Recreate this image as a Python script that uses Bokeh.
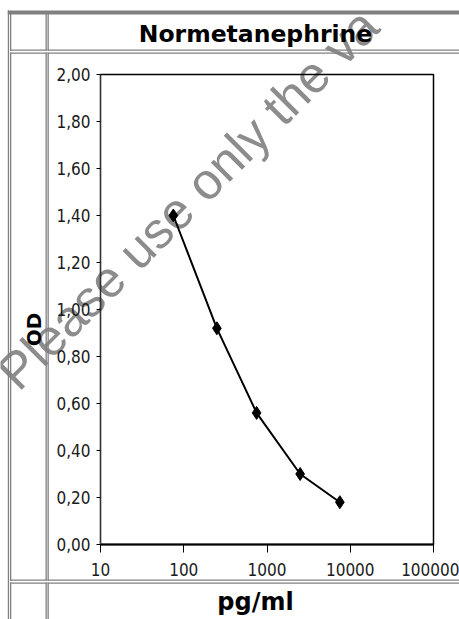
from bokeh.plotting import figure
from bokeh.models import Range1d, FixedTicker
from bokeh.layouts import column
from bokeh.core.properties import value
from bokeh.embed import file_html
from bokeh.resources import INLINE

# ---- data ----
conc = [75, 250, 750, 2500, 7500]
od = [1.40, 0.92, 0.56, 0.30, 0.18]
x_ticks = [10, 100, 1000, 10000, 100000]
x_tick_labels = ["10", "100", "1000", "10000", "100000"]
y_ticks = [0.0, 0.2, 0.4, 0.6, 0.8, 1.0, 1.2, 1.4, 1.6, 1.8, 2.0]
y_tick_labels = ["0,00", "0,20", "0,40", "0,60", "0,80", "1,00", "1,20", "1,40", "1,60", "1,80", "2,00"]
title_text = "Normetanephrine"
x_label = "pg/ml"
y_label = "OD"
watermark = "Please use only the va"

W, H = 459, 619
FL, FR, FT, FB = 100, 433, 74, 544  # plot-area edges in page pixels

# ---------- background figure: table borders, titles, watermark (page pixel space) ----------
bg = figure(width=W, height=H, x_range=Range1d(0, W), y_range=Range1d(H, 0),
            output_backend="svg", toolbar_location=None,
            x_axis_location=None, y_axis_location=None, min_border=0)
bg.outline_line_color = None
bg.background_fill_color = "white"
bg.border_fill_color = "white"
bg.xgrid.visible = False
bg.ygrid.visible = False

# watermark
bg.text(x=[6], y=[380], text=[watermark], angle=45, angle_units="deg",
        text_font=value("Liberation Sans"), text_font_size="51px",
        text_color="#8c8c8c", text_align="left", text_baseline="alphabetic")

gray = "#808080"
L, R, T, B = [], [], [], []
def band(x0, x1, y0, y1):
    L.append(x0); R.append(x1); T.append(y0); B.append(y1)

band(7.3, W, 10, 14)          # top band
band(7.3, 8.6, 10, H)         # outer left
cols = [(9.5, 10.8), (45, 46.3), (47, 48.3)]
rows = [(13, 50.3), (52, 580.3), (582, H)]
for (c0, c1) in cols:
    for (r0, r1) in rows:
        band(c0, c1, r0, r1)
for (h0, h1) in [(49, 50.3), (52, 53.3), (579, 580.3), (582, 583.3)]:
    band(9.5, 46.3, h0, h1)
    band(47, W, h0, h1)
bg.quad(left=L, right=R, top=T, bottom=B, fill_color=gray, line_color=None)

bg.text(x=[255], y=[33], text=[title_text], text_font=value("DejaVu Sans"),
        text_font_style="bold", text_font_size="23.5px", text_color="black",
        text_align="center", text_baseline="middle")
bg.text(x=[255], y=[601], text=[x_label], text_font=value("DejaVu Sans"),
        text_font_style="bold", text_font_size="24px", text_color="black",
        text_align="center", text_baseline="middle")
bg.text(x=[33], y=[329], text=[y_label], angle=90, angle_units="deg",
        text_font=value("DejaVu Sans"), text_font_style="bold",
        text_font_size="20px", text_color="black",
        text_align="center", text_baseline="middle")

# ---------- main chart figure (transparent, overlaid) ----------
p = figure(width=W, height=H, x_axis_type="log",
           x_range=Range1d(10, 100000), y_range=Range1d(0, 2),
           output_backend="svg", toolbar_location=None,
           min_border_left=FL, min_border_right=W - FR,
           min_border_top=FT, min_border_bottom=H - FB)
p.background_fill_alpha = 0
p.border_fill_alpha = 0
p.outline_line_color = "black"
p.outline_line_width = 1.5
p.xgrid.visible = False
p.ygrid.visible = False
p.margin = (-H, 0, 0, 0)

for f in (bg, p):
    try:
        f.frame_align = False
    except Exception:
        pass

p.xaxis.ticker = FixedTicker(ticks=x_ticks, minor_ticks=[])
p.xaxis.major_label_overrides = dict(zip(x_ticks, x_tick_labels))
p.yaxis.ticker = FixedTicker(ticks=y_ticks, minor_ticks=[])
p.yaxis.major_label_overrides = dict(zip(y_ticks, y_tick_labels))
for ax in (p.xaxis, p.yaxis):
    ax.major_label_text_font = "'Liberation Sans Narrow', 'DejaVu Sans Condensed', 'Liberation Sans', sans-serif"
    ax.major_label_text_font_size = "17px"
    ax.major_label_text_color = "#1a1a1a"
    ax.major_tick_line_color = "black"
    ax.minor_tick_line_color = None
    ax.major_tick_in = 0
p.xaxis.axis_line_width = 2
p.xaxis.axis_line_color = "black"
p.yaxis.axis_line_color = "#333333"
p.xaxis.major_tick_out = 8
p.yaxis.major_tick_out = 4
p.xaxis.major_label_standoff = 10
p.yaxis.major_label_standoff = 6

p.line(conc, od, line_color="black", line_width=2)
p.scatter(conc, od, marker="diamond", size=13, fill_color="black", line_color="black")

layout = column(bg, p, spacing=0)
open("out.html", "w").write(file_html(layout, INLINE))
